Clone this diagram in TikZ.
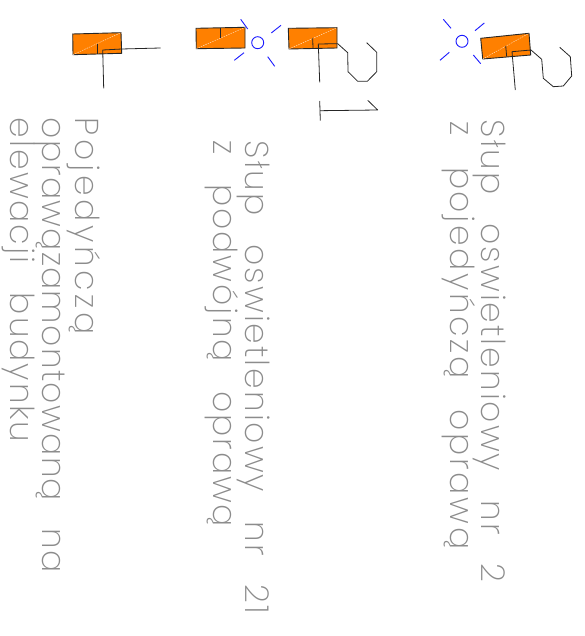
\documentclass[tikz,border=0pt]{standalone}
\usepackage{fontspec}
\newfontfamily\cadfont[LetterSpace=6,WordSpace=2.6]{Poppins ExtraLight}
\definecolor{lampfill}{HTML}{FF8000}
\definecolor{lampblue}{HTML}{1A1AFF}
\definecolor{cadtext}{HTML}{8C8C8C}
\tikzset{
  x=1pt,y=-1pt,
  wire/.style={draw=black!85,line width=0.8pt,line join=round},
  lamp/.style={draw=black!85,fill=lampfill,line width=0.9pt},
  glint/.style={draw=white!80!lampfill,line width=0.4pt,dashed,dash pattern=on 1.5pt off 1pt},
  ray/.style={draw=lampblue,line width=0.9pt},
  caption/.style={text=cadtext,font=\cadfont\fontsize{33}{33}\selectfont,rotate=-90,anchor=base west,inner sep=0pt,outer sep=0pt}
}
\begin{document}
\begin{tikzpicture}
\useasboundingbox (0,0) rectangle (585,636);
\clip (0,0) rectangle (585,636);
% right lamp
\draw[lamp] (480.7,38.3) -- (529,33.3) -- (530.7,55) -- (482.7,59) -- cycle;
\draw[glint] (482.7,59) -- (529,33.3);
\draw[wire] (505.7,46) -- (506.7,56.7);
\draw[wire] (515.3,90) -- (512,51.7) -- (531,50) -- (541.7,59.3) -- (543.3,78.3) -- (553.3,86.7) -- (563.3,86) -- (571.7,76) -- (570.3,56.7) -- (559.7,47.3);
\draw[ray] (462,41.3) circle[radius=6];
\draw[ray] (443.3,19.3) -- (451,28.3);
\draw[ray] (484.3,23) -- (475,30.7);
\draw[ray] (449.3,52.3) -- (440,60.3);
\draw[ray] (473.3,55) -- (480.7,63.7);
% middle lamps
\draw[lamp] (196,28.3) -- (245,27.3) -- (245,48) -- (196.3,48.7) -- cycle;
\draw[glint] (196.3,48.7) -- (245,27.3);
\draw[wire] (220.3,27.7) -- (220.3,38);
\draw[ray] (257.7,42.7) circle[radius=6];
\draw[ray] (240.7,19.3) -- (247.7,29);
\draw[ray] (281,25.3) -- (271.3,33);
\draw[ray] (244,52.7) -- (234.3,60.3);
\draw[ray] (267.7,56.7) -- (274.7,66.3);
\draw[lamp] (288.3,28.3) -- (337,27.7) -- (337,48) -- (289,49) -- cycle;
\draw[glint] (289,49) -- (337,27.7);
\draw[wire] (312.7,38) -- (313,48.5);
\draw[wire] (319.7,82.3) -- (318.3,44) -- (337.7,43.7) -- (347.7,52.7) -- (348,71.7) -- (357.7,81.3) -- (367.3,81.3) -- (376.7,71.7) -- (376.7,52.3) -- (366.7,42.7);
\draw[wire] (319.7,101) -- (320.3,120.7);
\draw[wire] (320,110.7) -- (377.7,110) -- (367.7,100.3);
% left lamp
\draw[lamp] (72.7,34) -- (121,32.7) -- (121.7,53.3) -- (73,54.7) -- cycle;
\draw[glint] (73,54.7) -- (121,32.7);
\draw[wire] (97.3,44) -- (97.3,54);
\draw[wire] (103.7,88.3) -- (102.7,50) -- (121.7,49) -- (160.7,48);
% captions
\node[caption] (c1) at (481,120) {Słup oswietleniowy nr 2};
\node[caption] (c2) at (450,122) {\addfontfeature{LetterSpace=8}z pojedyńczą oprawą};
\node[caption] (c3) at (245,141) {Słup oswietleniowy nr 21};
\node[caption] (c4) at (213,141) {z podwójną oprawą};
\node[caption] (c5) at (75,118) {\addfontfeature{LetterSpace=11}Pojedyńczą};
\node[caption] (c6) at (42,118) {\addfontfeature{LetterSpace=4}oprawązamontowaną na};
\node[caption] (c7) at (10,118) {elewacji budynku};
\end{tikzpicture}
\end{document}
